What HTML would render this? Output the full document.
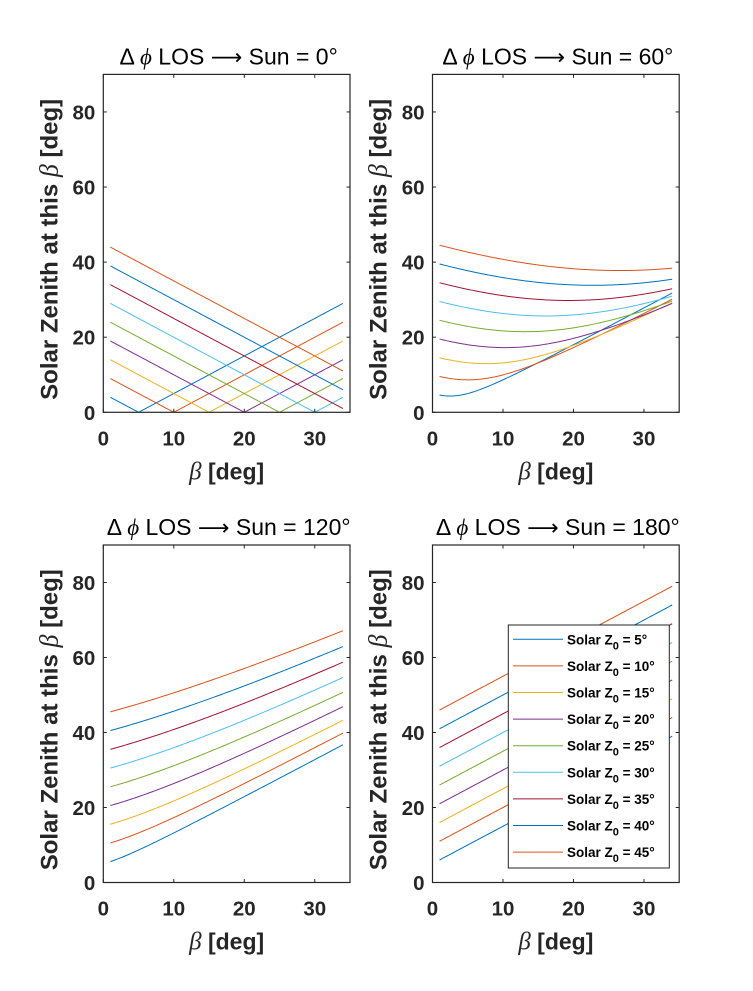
<!DOCTYPE html>
<html><head><meta charset="utf-8">
<style>
html,body{margin:0;padding:0;background:#fff;}
svg{display:block;font-family:"Liberation Sans",Arial,sans-serif;}
</style></head>
<body>
<svg id="fig" width="753" height="991" viewBox="0 0 753 991"></svg>
<script>
// Data
const betaStart = 1, betaEnd = 34;
const z0Values = [5,10,15,20,25,30,35,40,45];
const phiValues = [0,60,120,180];
const xTicks = [0,10,20,30];
const yTicks = [0,20,40,60,80];
const seriesColors = ["#0072BD","#D95319","#EDB120","#7E2F8E","#77AC30","#4DBEEE","#A2142F","#0072BD","#D95319"];

const NS="http://www.w3.org/2000/svg";
const svg=document.getElementById('fig');
function mk(tag,attrs,parent){const e=document.createElementNS(NS,tag);for(const k in attrs)e.setAttribute(k,attrs[k]);(parent||svg).appendChild(e);return e;}
const d2r=Math.PI/180;
function zen(z0,b,phi){
  const c=Math.cos(z0*d2r)*Math.cos(b*d2r)+Math.sin(z0*d2r)*Math.sin(b*d2r)*Math.cos(phi*d2r);
  return Math.acos(Math.max(-1,Math.min(1,c)))/d2r;
}
const panels=[{x0:103.3,x1:350,y0:74.4,y1:412.3},{x0:432.5,x1:679.2,y0:74.4,y1:412.3},
              {x0:103.3,x1:350,y0:545,y1:882.5},{x0:432.5,x1:679.2,y0:545,y1:882.5}];
phiValues.forEach((phi,pi)=>{
  const p=panels[pi];
  const g=mk('g',{});
  
  
  const sx=v=>p.x0+(v/35)*(p.x1-p.x0);
  const sy=v=>p.y1-(v/90)*(p.y1-p.y0);
  const clipId='clip'+pi;
  const cp=mk('clipPath',{id:clipId},g);
  mk('rect',{x:p.x0,y:p.y0,width:p.x1-p.x0,height:p.y1-p.y0},cp);
  const lines=mk('g',{'clip-path':'url(#'+clipId+')'},g);
  z0Values.forEach((z0,si)=>{
    const pts=[];
    for(let b=betaStart;b<=betaEnd+1e-9;b+=0.25){pts.push(sx(b).toFixed(2)+','+sy(zen(z0,b,phi)).toFixed(2));}
    const pl=mk('polyline',{points:pts.join(' '),fill:'none',stroke:seriesColors[si],'stroke-width':1},lines);
    
    
  });
  const box=mk('rect',{x:p.x0,y:p.y0,width:p.x1-p.x0,height:p.y1-p.y0,fill:'none',stroke:'#262626','stroke-width':1.2},g);
  
  
  xTicks.forEach(t=>{
    const x=sx(t);
    mk('line',{x1:x,x2:x,y1:p.y1,y2:p.y1-3.5,stroke:'#262626'},g);
    mk('line',{x1:x,x2:x,y1:p.y0,y2:p.y0+3.5,stroke:'#262626'},g);
    const tx=mk('text',{x:x,y:p.y1+33,'text-anchor':'middle','font-size':20.5,'font-weight':'bold',fill:'#262626'},g);
    tx.textContent=t;
    
    
  });
  yTicks.forEach(t=>{
    const y=sy(t);
    mk('line',{x1:p.x0,x2:p.x0+3.5,y1:y,y2:y,stroke:'#262626'},g);
    mk('line',{x1:p.x1,x2:p.x1-3.5,y1:y,y2:y,stroke:'#262626'},g);
    const ty=mk('text',{x:p.x0-8,y:y+7.5,'text-anchor':'end','font-size':20.5,'font-weight':'bold',fill:'#262626'},g);
    ty.textContent=t;
    
    
  });
  const cx=(p.x0+p.x1)/2;
  const ti=mk('text',{x:cx+2,y:p.y0-10,'text-anchor':'middle','font-size':23,fill:'#000'},g);
  ti.innerHTML='Δ <tspan font-family="Liberation Serif" font-style="italic">ϕ</tspan> LOS <tspan font-family="DejaVu Sans" font-size="22">⟶</tspan> Sun = '+phi+'°';
  
  
  const xl=mk('text',{x:cx,y:p.y1+67,'text-anchor':'middle','font-size':23,'font-weight':'bold',fill:'#262626'},g);
  xl.innerHTML='<tspan font-family="Liberation Serif" font-style="italic" font-weight="normal" font-size="25">β</tspan> [deg]';
  
  
  const ly=(p.y0+p.y1)/2+6;
  const yl=mk('text',{x:0,y:0,transform:'translate('+(p.x0-46)+','+ly+') rotate(-90)','text-anchor':'middle','font-size':24,'font-weight':'bold',fill:'#262626'},g);
  yl.innerHTML='Solar Zenith at this <tspan font-family="Liberation Serif" font-style="italic" font-weight="normal" font-size="26">β</tspan> [deg]';
  
  
});
// Legend
const lg=mk('g',{});


mk('rect',{x:508.3,y:625,width:161,height:243,fill:'#fff',stroke:'#262626','stroke-width':1},lg);
z0Values.forEach((z0,i)=>{
  const y=639.3+i*26.6;
  const e=mk('g',{},lg);
  
  
  mk('line',{x1:513,x2:563,y1:y,y2:y,stroke:seriesColors[i],'stroke-width':1},e);
  const t=mk('text',{x:567,y:y+5,'font-size':13.5,'font-weight':'bold',fill:'#000'},e);
  t.innerHTML='Solar Z<tspan dy="5" font-size="11">0</tspan><tspan dy="-5"> = '+z0+'°</tspan>';
});
</script>
</body></html>
